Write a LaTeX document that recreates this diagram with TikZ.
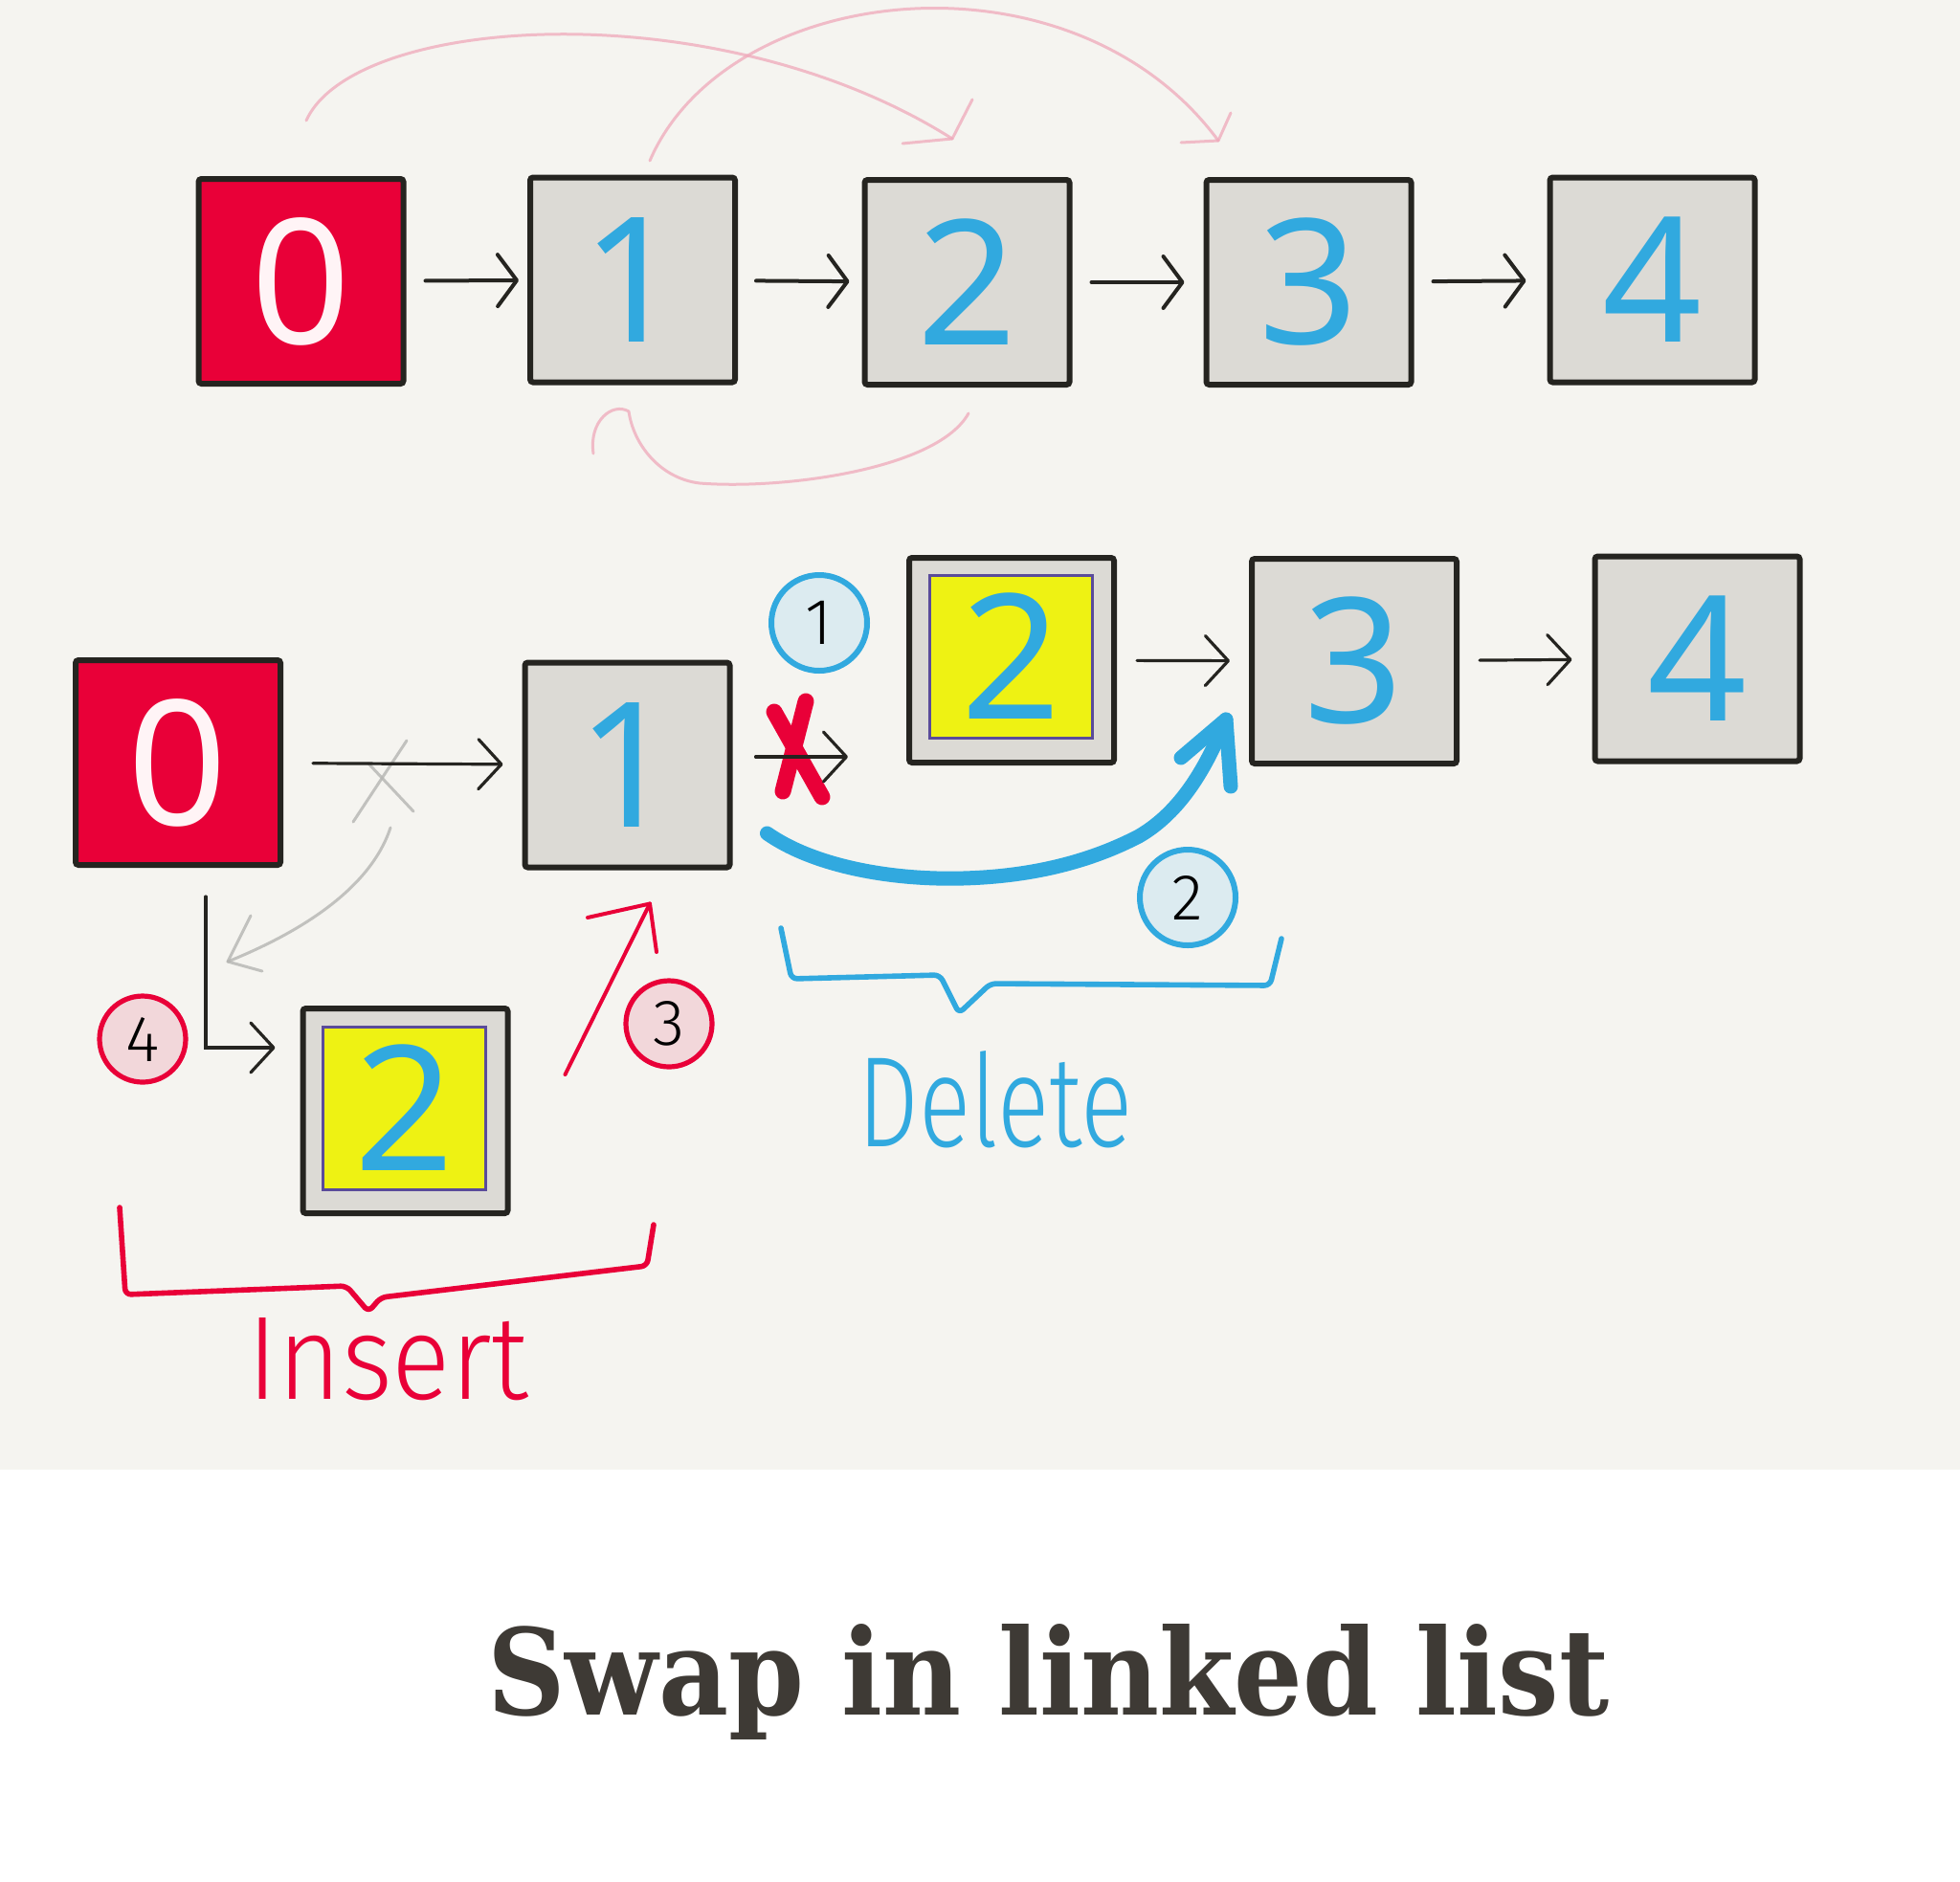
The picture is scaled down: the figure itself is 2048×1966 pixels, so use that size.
\documentclass[tikz,border=0pt]{standalone}
\usepackage{graphicx}
\usepackage{fontspec}
\setmainfont{Noto Sans}
\newfontfamily\titlefont{DejaVu Serif}
\newfontfamily\handfont{Fira Sans}[UprightFont={* Light}]
\usetikzlibrary{arrows.meta,calc}
\definecolor{bg}{HTML}{F5F4F0}
\definecolor{boxgray}{HTML}{DCDAD5}
\definecolor{ink}{HTML}{252420}
\definecolor{nred}{HTML}{E90038}
\definecolor{nblue}{HTML}{31A9DF}
\definecolor{nyellow}{HTML}{EEF213}
\definecolor{npurple}{HTML}{5A4B9A}
\definecolor{pinkpen}{HTML}{EFA9BA}
\definecolor{graypen}{HTML}{B5B5B2}
\definecolor{lblue}{HTML}{DCEBF0}
\definecolor{lpink}{HTML}{F2D7DA}
\definecolor{titlecol}{HTML}{3E3A35}
\definecolor{zerowhite}{HTML}{FFF4F6}
\begin{document}
\begin{tikzpicture}[x=0.5pt,y=-0.5pt,
  listbox/.style={draw=ink,line width=3pt,rounded corners=1.5pt,minimum width=107pt,minimum height=107pt,inner sep=0pt,fill=boxgray},
  headbox/.style={listbox,fill=nred},
  innerbox/.style={draw=npurple,line width=1.5pt,fill=nyellow,minimum width=85pt,minimum height=85pt,inner sep=0pt},
  digit/.style={text=nblue,font=\fontsize{91}{91}\selectfont\bfseries},
  zerodigit/.style={digit,text=zerowhite},
  link/.style={draw=ink,line width=2pt,line cap=round,-{Straight Barb[length=10pt,width=27pt,round]}},
  thinlink/.style={draw=ink,line width=1.6pt,line cap=round,-{Straight Barb[length=12pt,width=26pt,round]}},
  pinkline/.style={draw=pinkpen,line width=1.5pt,line cap=round,line join=round,opacity=0.75},
  grayline/.style={draw=graypen,line width=1.5pt,line cap=round,line join=round,opacity=0.8},
  redpen/.style={draw=nred,line width=2pt,line cap=round,line join=round},
  redx/.style={draw=nred,line width=8.5pt,line cap=round},
  bluestroke/.style={draw=nblue,line width=7.5pt,line cap=round,line join=round},
  bluecircle/.style={circle,draw=nblue,fill=lblue,line width=3pt,minimum size=50pt,inner sep=0pt,font=\handfont\fontsize{34}{34}\selectfont},
  redcircle/.style={circle,draw=nred,fill=lpink,line width=2.6pt,minimum size=45pt,inner sep=0pt,font=\handfont\fontsize{34}{34}\selectfont},
  brace/.style={line width=2.8pt,line cap=round,line join=round,rounded corners=3pt},
  handtext/.style={inner sep=0pt,anchor=base west},
]
\fill[bg] (0,0) rectangle (2048,1536);
\fill[white] (0,1536) rectangle (2048,1966);
\useasboundingbox (0,0) rectangle (2048,1966);

% ---------- pink pencil curves (top) ----------
\coordinate (pAs) at (320,126);
\coordinate (pAe) at (995,145);
\draw[pinkline] (pAs) .. controls (370,15) and (750,-10) .. (pAe);
\draw[pinkline] (943,150) -- (pAe) -- (1016,104);
\coordinate (pBs) at (679,168);
\coordinate (pBe) at (1273,147);
\draw[pinkline] (pBs) .. controls (760,-20) and (1120,-60) .. (pBe);
\draw[pinkline] (1234,149) -- (pBe) -- (1286,118);
\coordinate (pCs) at (1012,432);
\coordinate (pCe) at (620,474);
\draw[pinkline] (pCs) .. controls (980,490) and (820,512) .. (731,505)
  .. controls (690,500) and (662,465) .. (657,430)
  .. controls (640,420) and (615,440) .. (pCe);

% ---------- top row ----------
\node[headbox,zerodigit] (t0) at (314.5,294) {0};
\node[listbox,digit] (t1) at (661,292.5) {1};
\node[listbox,digit] (t2) at (1010.5,295) {2};
\node[listbox,digit] (t3) at (1367.5,295) {3};
\node[listbox,digit] (t4) at (1726.5,292.5) {4};
\draw[link,shorten <=10pt,shorten >=4.5pt] (t0) -- (t1);
\draw[link,shorten <=9.5pt,shorten >=6.5pt] (t1) -- (t2);
\draw[link,shorten <=10pt,shorten >=10pt] (t2) -- (t3);
\draw[link,shorten <=10pt,shorten >=11pt] (t3) -- (t4);

% ---------- second row ----------
\node[headbox,zerodigit] (b0) at (186,797) {0};
\node[listbox,digit] (b1) at (655.5,799.5) {1};
\node[listbox] (b2) at (1057,690) {};
\node[innerbox,digit] (b2in) at (1056.5,686) {2};
\node[listbox,digit] (b3) at (1415,691) {3};
\node[listbox,digit] (b4) at (1773.5,688.5) {4};
\node[listbox] (n2) at (423.5,1161) {};
\node[innerbox,digit] (n2in) at (422.5,1158) {2};

% gray pencil cross and curve
\draw[grayline] (369,859) -- (425,774);
\draw[grayline] (385,798) -- (432,848);
\coordinate (gs) at (408,865);
\coordinate (gt) at (238,1005);
\draw[grayline] (gs) .. controls (385,935) and (300,980) .. (gt);
\draw[grayline] (274,1015) -- (gt) -- (262,957);

\draw[thinlink,shorten <=15.5pt,shorten >=10pt] (b0) -- (b1);

% crossed link 1 -> 2
\draw[redx] (809,744) -- (859,833);
\draw[redx] (842,733) -- (818,827);
\coordinate (x1) at ($(b1.east)+(24,-8.5)$);
\draw[thinlink,shorten >=30.5pt] (x1) -- (x1 -| b2.west);

\draw[thinlink,shorten <=10.5pt,shorten >=10pt] (b2) -- (b3);
\draw[thinlink,shorten <=10.5pt,shorten >=10.5pt] (b3) -- (b4);

% L-shaped link 0 -> new 2
\draw[thinlink] ($(b0.south)+(29,30)$) |- ($(n2.west)+(-26,-66)$);

% red link new 2 -> 1
\coordinate (r3s) at ($(n2.east)+(57,-38)$);
\coordinate (r3t) at ($(b1.south)+(23.5,35)$);
\draw[redpen] (r3s) -- (r3t);
\draw[redpen] (614,959) -- (r3t) -- (686,995);

% blue bypass 1 -> 3
\coordinate (bcs) at ($(b1.east)+(36,71.5)$);
\coordinate (bct) at ($(b3.west)+(-24,61)$);
\draw[bluestroke] (bcs) .. controls (850,905) and (930,920) .. (1006,918)
  .. controls (1080,916) and (1140,900) .. (1190,874)
  .. controls (1240,845) and (1265,790) .. (bct);
\draw[bluestroke] (1234,792) -- (bct) -- (1286,822);

% step circles
\node[bluecircle] (c1) at (856,651) {1};
\node[bluecircle] (c2) at (1241,938) {2};
\node[redcircle] (c4) at (149,1086) {4};
\node[redcircle] (c3) at (699,1070) {3};

% braces
\draw[brace,draw=nblue] (816,970) -- (827,1023) -- (982,1019) -- (1002,1059) -- (1035,1028) -- (1327,1030) -- (1339,981);
\draw[brace,draw=nred] (125,1262) -- (131,1353) -- (362,1344) -- (385,1371) -- (398,1356) -- (676,1323) -- (683,1280);

% labels
\node[handtext,text=nblue] (lblDelete) at (896,1198) {\resizebox{143.5pt}{50pt}{\handfont Delete}};
\node[handtext,text=nred] (lblInsert) at (258,1462) {\resizebox{147pt}{42.5pt}{\handfont Insert}};

% title
\node[handtext,text=titlecol] (title) at (509,1792) {\resizebox{586pt}{47.5pt}{\titlefont\bfseries Swap in linked list}};
\end{tikzpicture}
\end{document}
